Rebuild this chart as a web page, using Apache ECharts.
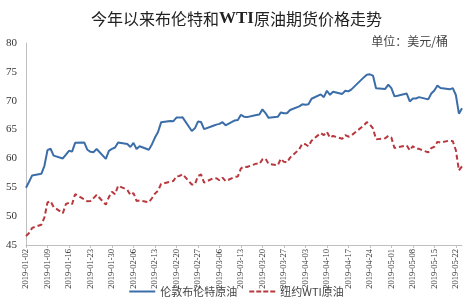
<!DOCTYPE html>
<html><head><meta charset="utf-8">
<script src="https://cdn.jsdelivr.net/npm/echarts@6/dist/echarts.min.js"></script>
<style>html,body{margin:0;padding:0;background:#fff}#c{width:473px;height:307px}</style>
</head><body><div id="c"></div>
<script>
const tradeDates = ["2019-01-02","2019-01-03","2019-01-04","2019-01-07","2019-01-08","2019-01-09","2019-01-10","2019-01-11","2019-01-14","2019-01-15","2019-01-16","2019-01-17","2019-01-18","2019-01-21","2019-01-22","2019-01-23","2019-01-24","2019-01-25","2019-01-28","2019-01-29","2019-01-30","2019-01-31","2019-02-01","2019-02-04","2019-02-05","2019-02-06","2019-02-07","2019-02-08","2019-02-11","2019-02-12","2019-02-13","2019-02-14","2019-02-15","2019-02-18","2019-02-19","2019-02-20","2019-02-21","2019-02-22","2019-02-25","2019-02-26","2019-02-27","2019-02-28","2019-03-01","2019-03-04","2019-03-05","2019-03-06","2019-03-07","2019-03-08","2019-03-11","2019-03-12","2019-03-13","2019-03-14","2019-03-15","2019-03-18","2019-03-19","2019-03-20","2019-03-21","2019-03-22","2019-03-25","2019-03-26","2019-03-27","2019-03-28","2019-03-29","2019-04-01","2019-04-02","2019-04-03","2019-04-04","2019-04-05","2019-04-08","2019-04-09","2019-04-10","2019-04-11","2019-04-12","2019-04-15","2019-04-16","2019-04-17","2019-04-18","2019-04-22","2019-04-23","2019-04-24","2019-04-25","2019-04-26","2019-04-29","2019-04-30","2019-05-01","2019-05-02","2019-05-03","2019-05-06","2019-05-07","2019-05-08","2019-05-09","2019-05-10","2019-05-13","2019-05-14","2019-05-15","2019-05-16","2019-05-17","2019-05-20","2019-05-21","2019-05-22","2019-05-23","2019-05-24"];
const brent = [54.91,55.95,57.06,57.33,58.72,61.44,61.68,60.48,59.99,60.64,61.32,61.18,62.70,62.74,61.50,61.14,61.09,61.64,59.93,61.32,61.65,61.89,62.75,62.51,61.98,62.69,61.63,62.10,61.51,62.42,63.61,64.57,66.25,66.50,66.45,67.08,67.07,67.12,64.76,65.21,66.39,66.31,65.07,65.67,65.86,65.99,66.30,65.74,66.58,66.67,67.55,67.23,67.16,67.54,67.61,68.50,67.86,67.03,67.21,67.97,67.83,67.82,68.39,69.01,69.37,69.31,69.40,70.34,71.10,70.61,71.73,71.02,71.55,71.18,71.72,71.62,71.97,74.04,74.51,74.57,74.35,72.15,72.04,72.80,72.18,70.75,70.85,71.24,69.88,70.37,70.39,70.62,70.23,71.24,71.77,72.62,72.21,71.97,72.18,70.99,67.76,68.69];
const wti = [46.54,47.09,47.96,48.52,49.78,52.36,52.59,51.59,50.51,52.11,52.31,52.07,53.80,null,52.57,52.62,53.13,53.69,51.99,53.31,54.23,53.79,55.26,54.56,53.66,54.01,52.64,52.72,52.41,53.10,53.90,54.41,55.59,null,56.09,56.92,56.96,57.26,55.48,55.50,56.94,57.22,55.80,56.59,56.56,56.22,56.66,56.07,56.79,56.87,58.26,58.61,58.52,59.09,59.03,59.83,59.98,59.04,58.82,59.94,59.41,59.30,60.14,61.59,62.58,62.46,62.10,63.08,64.40,64.05,64.61,63.58,63.89,63.40,64.05,63.76,64.00,65.70,66.30,65.89,65.21,63.30,63.50,63.91,63.60,61.81,61.94,62.25,61.40,62.12,61.70,61.66,61.04,61.78,62.02,62.87,62.76,63.10,62.99,61.42,57.91,58.63];
const seriesNames = ["伦敦布伦特原油","纽约WTI原油"];
const yTicks = {min:45, max:80, step:5};

// calendar-day category axis (date axis as in the source)
const cats = [];
const d0 = Date.UTC(2019,0,2), d1 = Date.UTC(2019,4,24);
for (let t=d0; t<=d1; t+=86400000) cats.push(new Date(t).toISOString().slice(0,10));
const bMap = {}, wMap = {};
tradeDates.forEach((d,i)=>{bMap[d]=brent[i]; wMap[d]=wti[i];});
const bData = cats.map(d => d in bMap ? bMap[d] : null);
const wData = cats.map(d => d in wMap ? wMap[d] : null);

const chart = echarts.init(document.getElementById('c'));
chart.setOption({
  animation:false,
  title:{text:'今年以来布伦特和{b|WTI}原油期货价格走势', left:'center', top:5,
    textStyle:{fontFamily:'Noto Sans CJK SC', fontSize:16, fontWeight:'normal', color:'#222',
      rich:{b:{fontFamily:'Liberation Serif', fontWeight:'bold', fontSize:17, color:'#222'}}}},
  graphic:[{type:'text', right:25, top:35, style:{text:'单位：美元/桶', font:'12px "Noto Sans CJK SC"', fill:'#444'}}],
  grid:{left:26, right:11, top:43, bottom:62},
  legend:{bottom:5, left:'center', itemWidth:26, itemHeight:10, itemGap:12,
    textStyle:{fontFamily:'Noto Sans CJK SC', fontSize:11, color:'#444'},
    data:[{name:seriesNames[0], icon:'path://M0,4h26v2h-26z'},{name:seriesNames[1], icon:'path://M0,4h5v2h-5zM7,4h5v2h-5zM14,4h5v2h-5zM21,4h5v2h-5z'}]},
  xAxis:{type:'category', data:cats, boundaryGap:false,
    axisLine:{lineStyle:{color:'#bfbfbf'}},
    axisTick:{length:3, inside:false, interval:(i)=>i%7===0, lineStyle:{color:'#bfbfbf'}},
    axisLabel:{rotate:90, interval:(i)=>i%7===0, fontFamily:'Liberation Serif', fontSize:8.5, color:'#333', margin:4}},
  yAxis:{type:'value', min:yTicks.min, max:yTicks.max, interval:yTicks.step,
    axisLine:{show:true, lineStyle:{color:'#bfbfbf'}}, axisTick:{show:false}, splitLine:{show:false},
    axisLabel:{fontFamily:'Liberation Serif', fontSize:11, color:'#333', margin:9}},
  series:[
    {name:seriesNames[0], type:'line', data:bData, connectNulls:true, showSymbol:false, symbol:'none',
      itemStyle:{color:'#3b6ea8'}, lineStyle:{color:'#3b6ea8', width:2}},
    {name:seriesNames[1], type:'line', data:wData, connectNulls:true, showSymbol:false, symbol:'none',
      itemStyle:{color:'#b8383d'}, lineStyle:{color:'#b8383d', width:2, type:[5,3]}}
  ]
});
</script></body></html>
